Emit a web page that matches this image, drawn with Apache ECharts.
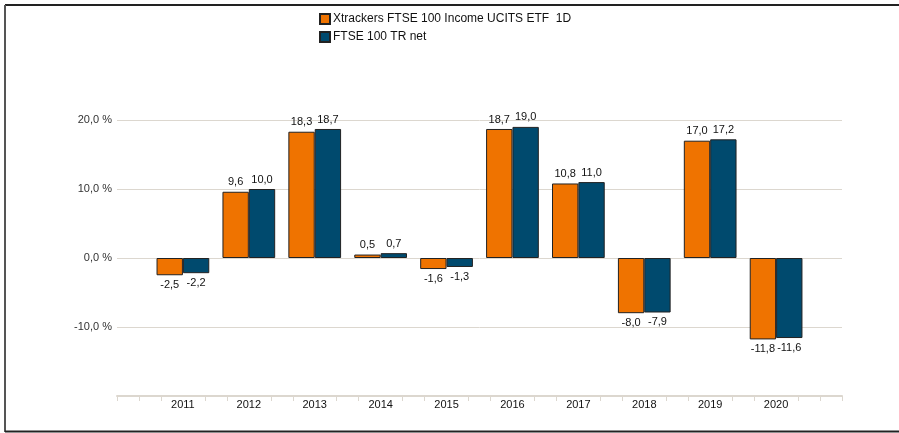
<!DOCTYPE html>
<html>
<head>
<meta charset="utf-8">
<script src="https://cdn.jsdelivr.net/npm/echarts@6/dist/echarts.min.js"></script>
<style>
  html, body { margin: 0; padding: 0; background: #fff; }
  #chart { width: 899px; height: 433px; }
</style>
</head>
<body>
<div id="chart"></div>
<script>
// annual returns in %
const years = [2011, 2012, 2013, 2014, 2015, 2016, 2017, 2018, 2019, 2020];
const etfReturns = [-2.5, 9.6, 18.3, 0.5, -1.6, 18.7, 10.8, -8.0, 17.0, -11.8];
const indexReturns = [-2.2, 10.0, 18.7, 0.7, -1.3, 19.0, 11.0, -7.9, 17.2, -11.6];
const seriesNames = ['Xtrackers FTSE 100 Income UCITS ETF  1D', 'FTSE 100 TR net'];
const colors = ['#ef7300', '#004a6e'];

const fmt = (v) => v.toFixed(1).replace('.', ',');

// minor ticks every third of a year, none at the label positions
const tickValues = [];
for (let y = 2010; y <= 2021; y++) {
  if (y === 2010 || y === 2021) tickValues.push(y);
  if (y < 2021) {
    tickValues.push(y + 1 / 3);
    tickValues.push(y + 2 / 3);
  }
}

const chart = echarts.init(document.getElementById('chart'));

function makeSeries(name, values, color) {
  return {
    name: name,
    type: 'bar',
    // negative values get their label underneath
    data: years.map((y, i) => ({
      value: [y, values[i]],
      label: { position: values[i] < 0 ? 'bottom' : 'top' }
    })),
    barGap: '0%',
    barCategoryGap: '20%',
    itemStyle: { color: color, borderColor: '#222', borderWidth: 1 },
    label: {
      show: true,
      distance: 4,
      color: '#111',
      fontFamily: 'Liberation Sans',
      fontSize: 11,
      formatter: (p) => fmt(p.value[1])
    }
  };
}

chart.setOption({
  animation: false,
  textStyle: { fontFamily: 'Liberation Sans' },
  legend: {
    orient: 'vertical',
    left: 314,
    top: 8,
    itemWidth: 10,
    itemHeight: 10,
    itemGap: 6,
    icon: 'rect',
    textStyle: { fontSize: 12, color: '#111', padding: [0, 0, 0, -2] },
    data: seriesNames
  },
  grid: { left: 117, right: 57, top: 51, bottom: 37, containLabel: false },
  xAxis: {
    type: 'value',
    min: 2010,
    max: 2021,
    interval: 1,
    splitLine: { show: false },
    axisLine: { show: true, onZero: false, lineStyle: { color: '#dcd7cf', width: 2 } },
    axisTick: {
      show: true,
      length: 5,
      customValues: tickValues,
      lineStyle: { color: '#dcd7cf', width: 1 }
    },
    axisLabel: {
      customValues: years,
      color: '#111',
      fontSize: 11,
      margin: 3,
      formatter: (v) => String(v)
    }
  },
  yAxis: {
    type: 'value',
    min: -20,
    max: 30,
    interval: 10,
    axisLine: { show: false },
    axisTick: { show: false },
    axisLabel: {
      showMinLabel: false,
      showMaxLabel: false,
      color: '#333',
      fontSize: 11,
      margin: 5,
      formatter: (v) => fmt(v) + ' %'
    },
    splitLine: {
      show: true,
      showMinLine: false,
      showMaxLine: false,
      lineStyle: { color: '#dcd7cf', width: 1 }
    }
  },
  graphic: [
    { type: 'line', shape: { x1: 5, y1: 5, x2: 899, y2: 5 }, style: { stroke: '#222', lineWidth: 2 } },
    { type: 'line', shape: { x1: 5, y1: 5, x2: 5, y2: 432 }, style: { stroke: '#555', lineWidth: 2 } },
    { type: 'line', shape: { x1: 5, y1: 431.5, x2: 899, y2: 431.5 }, style: { stroke: '#222', lineWidth: 2 } }
  ],
  series: [
    makeSeries(seriesNames[0], etfReturns, colors[0]),
    makeSeries(seriesNames[1], indexReturns, colors[1])
  ]
});
</script>
</body>
</html>
